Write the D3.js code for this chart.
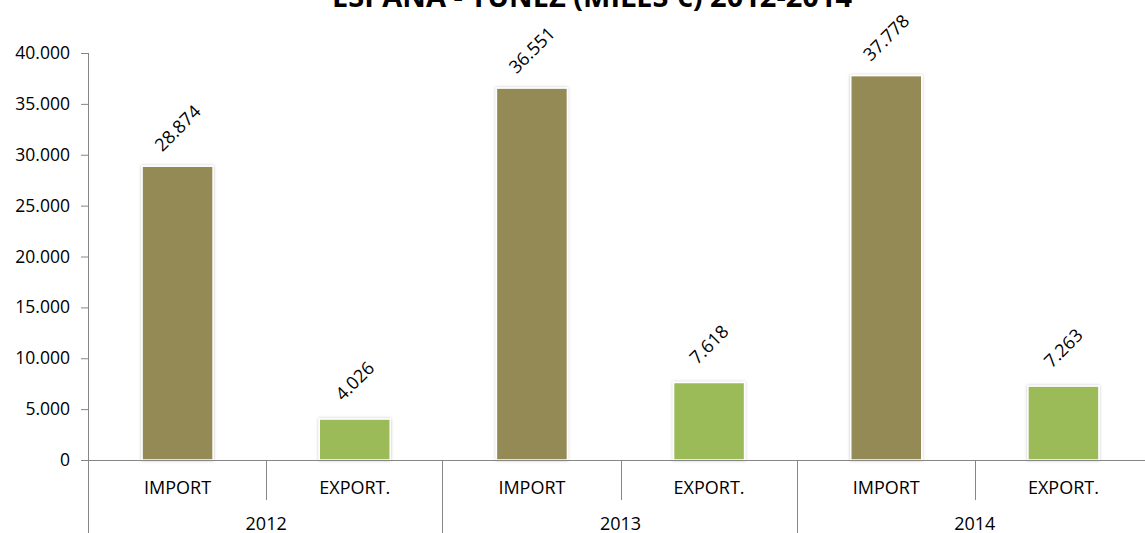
<!DOCTYPE html>
<html><head><meta charset="utf-8">
<script src="https://cdn.jsdelivr.net/npm/d3@7"></script>
<style>body{margin:0;background:#fff;} text{font-family:"Open Sans",sans-serif;fill:#000;}</style>
</head><body><svg id="c" width="1145" height="533"></svg>
<script>
const years = ["2012","2013","2014"];
const flows = ["IMPORT","EXPORT."];
const importValues = [28874, 36551, 37778];
const exportValues = [4026, 7618, 7263];
const yTicks = [0,5000,10000,15000,20000,25000,30000,35000,40000];
const title = "ESPAÑA - TÚNEZ (MILES €) 2012-2014";
const colors = {"IMPORT":"#948A54","EXPORT.":"#9BBB59"};

const fmt = v => d3.format(",")(v).replace(/,/g,".");
const data = [];
years.forEach((y,i)=>{
  data.push({year:y, flow:"IMPORT", value:importValues[i]});
  data.push({year:y, flow:"EXPORT.", value:exportValues[i]});
});
data.forEach(d=>d.key=d.year+"|"+d.flow);

const svg = d3.select("#c");
const x0 = 89, x1 = 1152, yBottom = 460, yTop = 53;
const x = d3.scaleBand().domain(data.map(d=>d.key)).range([x0,x1]).paddingInner(0).paddingOuter(0);
const y = d3.scaleLinear().domain([0,40000]).range([yBottom,yTop]);

const defs = svg.append("defs");
const f = defs.append("filter").attr("id","sh").attr("x","-20%").attr("y","-20%").attr("width","140%").attr("height","140%");
f.append("feDropShadow").attr("dx",0).attr("dy",0).attr("stdDeviation",1.5).attr("flood-color","#000").attr("flood-opacity",0.25);

svg.append("text").attr("x",592).attr("y",7).attr("text-anchor","middle")
  .style("font-size","29px").style("font-weight","bold").text(title);

// y axis
const yAxis = d3.axisLeft(y).tickValues(yTicks).tickSize(8).tickPadding(11).tickFormat(fmt);
const ga = svg.append("g").attr("transform",`translate(${x0},0)`).call(yAxis);
ga.select(".domain").attr("stroke","#868686").attr("d",`M-0.5,${yTop}V${yBottom}`);
ga.selectAll(".tick line").attr("stroke","#868686").attr("x1",-8).attr("x2",0);
ga.selectAll(".tick text").style("font-size","17.5px").style("font-family","'Open Sans',sans-serif").attr("fill","#000");

// bars
const bw = 71;
svg.append("g").selectAll("rect").data(data).join("rect")
  .attr("x",d=>x(d.key)+x.bandwidth()/2-bw/2)
  .attr("y",d=>y(d.value))
  .attr("width",bw)
  .attr("height",d=>y(0)-y(d.value))
  .attr("fill",d=>colors[d.flow])
  .attr("stroke","#fff").attr("stroke-width",1.5)
  .attr("filter","url(#sh)");

// labels
svg.append("g").selectAll("text").data(data).join("text")
  .attr("transform",d=>`translate(${x(d.key)+x.bandwidth()/2},${y(d.value)-38}) rotate(-45)`)
  .attr("text-anchor","middle").attr("dy","0.35em")
  .style("font-size","18px").text(d=>fmt(d.value));

// x axis baseline
svg.append("line").attr("x1",x0).attr("x2",1145).attr("y1",yBottom+0.5).attr("y2",yBottom+0.5).attr("stroke","#868686");

// dividers
const g2 = svg.append("g");
years.forEach((yr,i)=>{
  const bx = x(yr+"|IMPORT");
  g2.append("line").attr("x1",Math.round(bx)-0.5).attr("x2",Math.round(bx)-0.5).attr("y1",yBottom).attr("y2",533).attr("stroke","#868686");
  const mx = x(yr+"|EXPORT.");
  g2.append("line").attr("x1",Math.round(mx)+0.5).attr("x2",Math.round(mx)+0.5).attr("y1",yBottom).attr("y2",500).attr("stroke","#868686");
  g2.append("text").attr("x",mx).attr("y",530).attr("text-anchor","middle").style("font-size","18px").text(yr);
});
svg.append("g").selectAll("text").data(data).join("text")
  .attr("x",d=>x(d.key)+x.bandwidth()/2).attr("y",494).attr("text-anchor","middle")
  .style("font-size","18px").text(d=>d.flow);
</script></body></html>
